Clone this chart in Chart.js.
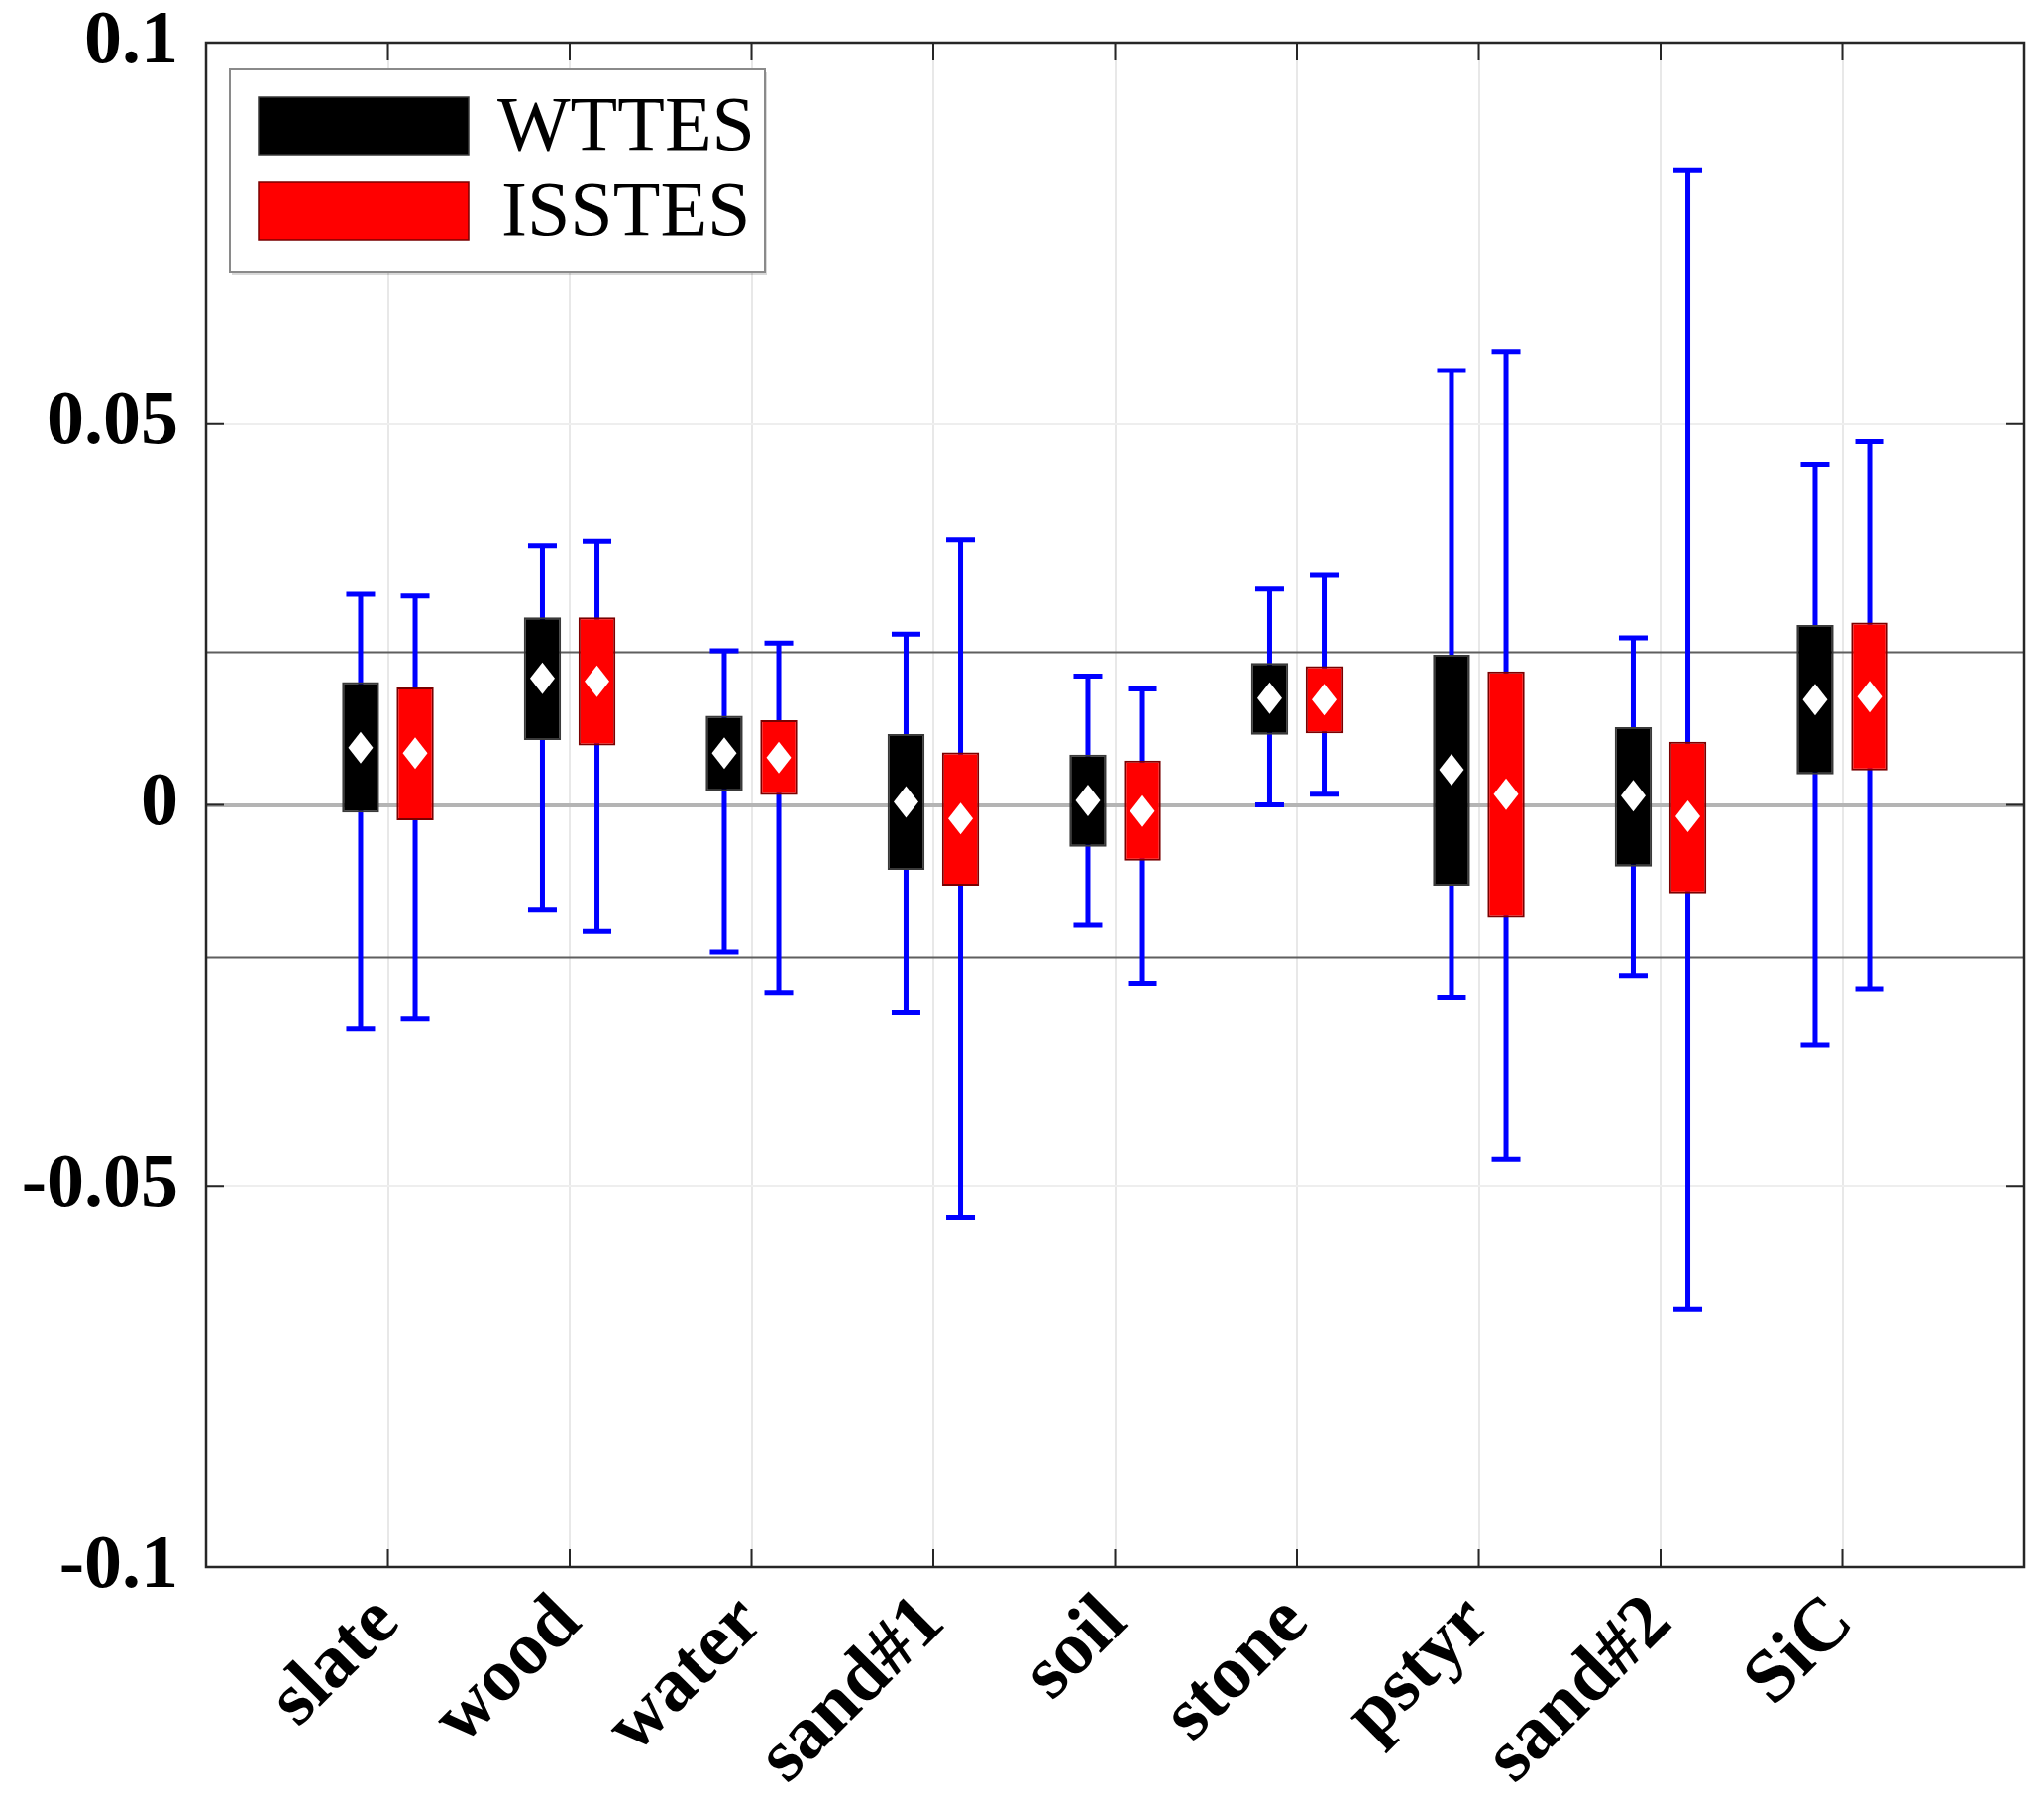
<!DOCTYPE html>
<html>
<head>
<meta charset="utf-8">
<script src="https://cdn.jsdelivr.net/npm/chart.js@4.4.1/dist/chart.umd.min.js"></script>
<style>
    body{margin:0;background:#fff;}
    canvas{display:block;}
</style>
</head>
<body>
<canvas id="chart" width="2063" height="1811"></canvas>
<script>

const categories = ['slate','wood','water','sand#1','soil','stone','pstyr','sand#2','SiC'];
const yTicks = [-0.1,-0.05,0,0.05,0.1];
const refLines = [-0.02,0.02];

// WTTES
const wttesMin  = [-0.0294,-0.0138,-0.0193,-0.0273,-0.0158, 0.0000,-0.0252,-0.0224,-0.0315];
const wttesQ1   = [-0.0010, 0.0085, 0.0018,-0.0085,-0.0055, 0.0092,-0.0106,-0.0081, 0.0040];
const wttesMean = [ 0.0075, 0.0166, 0.0068, 0.0004, 0.0006, 0.0140, 0.0046, 0.0012, 0.0138];
const wttesQ3   = [ 0.0161, 0.0246, 0.0117, 0.0093, 0.0066, 0.0186, 0.0197, 0.0102, 0.0236];
const wttesMax  = [ 0.0276, 0.0340, 0.0202, 0.0224, 0.0169, 0.0283, 0.0570, 0.0219, 0.0447];

// ISSTES
const isstesMin  = [-0.0281,-0.0166,-0.0246,-0.0542,-0.0234, 0.0014,-0.0465,-0.0661,-0.0241];
const isstesQ1   = [-0.0020, 0.0078, 0.0013,-0.0106,-0.0073, 0.0094,-0.0148,-0.0116, 0.0045];
const isstesMean = [ 0.0068, 0.0162, 0.0062,-0.0018,-0.0008, 0.0138, 0.0014,-0.0015, 0.0142];
const isstesQ3   = [ 0.0154, 0.0246, 0.0111, 0.0069, 0.0058, 0.0182, 0.0175, 0.0083, 0.0239];
const isstesMax  = [ 0.0274, 0.0346, 0.0212, 0.0348, 0.0152, 0.0302, 0.0595, 0.0832, 0.0477];


// empty slot at each end so the categories sit at 1..9 of 0..10
function pad(arr){
    return [null].concat(arr, [null]);
}

function boxes(q1, q3){
    return pad(q1.map((v, i) => [v, q3[i]]));
}

const labels = pad(categories).map(v => v === null ? '' : v);

const serif = "'Liberation Serif','Times New Roman',serif";

const boxPlugin = {
    id: 'boxPlugin',
    beforeDatasetsDraw(chart){
        const ctx = chart.ctx;
        const area = chart.chartArea;
        const y = chart.scales.y;
        ctx.save();
        // +-0.02 reference lines
        ctx.strokeStyle = '#5f5f5f';
        ctx.lineWidth = 2;
        refLines.forEach(v => {
            const py = y.getPixelForValue(v);
            ctx.beginPath();
            ctx.moveTo(area.left, py);
            ctx.lineTo(area.right, py);
            ctx.stroke();
        });
        // whiskers
        ctx.strokeStyle = '#0000ff';
        ctx.lineWidth = 5;
        chart.data.datasets.forEach((ds, di) => {
            const meta = chart.getDatasetMeta(di);
            meta.data.forEach((bar, i) => {
                if(ds.low[i] === null) return;
                const top = y.getPixelForValue(ds.high[i]);
                const bot = y.getPixelForValue(ds.low[i]);
                ctx.beginPath();
                ctx.moveTo(bar.x, top);
                ctx.lineTo(bar.x, bot);
                ctx.moveTo(bar.x - 14.5, top);
                ctx.lineTo(bar.x + 14.5, top);
                ctx.moveTo(bar.x - 14.5, bot);
                ctx.lineTo(bar.x + 14.5, bot);
                ctx.stroke();
            });
        });
        ctx.restore();
    },
    afterDatasetsDraw(chart){
        const ctx = chart.ctx;
        const y = chart.scales.y;
        ctx.save();
        ctx.fillStyle = '#ffffff';
        chart.data.datasets.forEach((ds, di) => {
            const meta = chart.getDatasetMeta(di);
            meta.data.forEach((bar, i) => {
                if(ds.mean[i] === null) return;
                const py = y.getPixelForValue(ds.mean[i]);
                ctx.beginPath();
                ctx.moveTo(bar.x, py - 16);
                ctx.lineTo(bar.x + 12.5, py);
                ctx.lineTo(bar.x, py + 16);
                ctx.lineTo(bar.x - 12.5, py);
                ctx.closePath();
                ctx.fill();
            });
        });
        ctx.restore();
    },
    afterDraw(chart){
        const ctx = chart.ctx;
        const area = chart.chartArea;
        const x = chart.scales.x;
        const y = chart.scales.y;
        ctx.save();
        // inward ticks
        ctx.strokeStyle = '#262626';
        ctx.lineWidth = 2;
        ctx.beginPath();
        for(let i = 1; i <= categories.length; i++){
            const px = x.getPixelForValue(i);
            ctx.moveTo(px, area.top);
            ctx.lineTo(px, area.top + 18);
            ctx.moveTo(px, area.bottom);
            ctx.lineTo(px, area.bottom - 18);
        }
        yTicks.forEach(v => {
            const py = y.getPixelForValue(v);
            ctx.moveTo(area.left, py);
            ctx.lineTo(area.left + 18, py);
            ctx.moveTo(area.right, py);
            ctx.lineTo(area.right - 18, py);
        });
        ctx.stroke();
        // frame
        ctx.lineWidth = 2.5;
        ctx.strokeRect(area.left, area.top, area.right - area.left, area.bottom - area.top);

        // legend box
        const lx = area.left + 24;
        const ly = area.top + 27;
        ctx.fillStyle = 'rgba(0,0,0,0.15)';
        ctx.fillRect(lx + 2, ly + 3, 540, 205);
        ctx.fillStyle = '#ffffff';
        ctx.fillRect(lx, ly, 540, 205);
        ctx.strokeStyle = '#8a8a8a';
        ctx.lineWidth = 2;
        ctx.strokeRect(lx, ly, 540, 205);
        ctx.font = '78px ' + serif;
        ctx.textBaseline = 'alphabetic';
        ctx.textAlign = 'left';
        chart.data.datasets.forEach((ds, di) => {
            const sy = ly + 28 + di * 86;
            ctx.fillStyle = ds.backgroundColor;
            ctx.fillRect(lx + 29, sy, 212, 58);
            ctx.strokeStyle = ds.borderColor;
            ctx.lineWidth = 1.5;
            ctx.strokeRect(lx + 29, sy, 212, 58);
            ctx.fillStyle = '#000000';
            ctx.fillText(ds.label, lx + 270 + (di ? 4 : 0), sy + 53);
        });
        ctx.restore();
    }
};

new Chart(
    document.getElementById('chart'),
    {
        type: 'bar',
        data: {
            labels: labels,
            datasets: [
                {
                    label: 'WTTES',
                    data: boxes(wttesQ1, wttesQ3),
                    low: pad(wttesMin),
                    high: pad(wttesMax),
                    mean: pad(wttesMean),
                    backgroundColor: '#000000',
                    borderColor: '#3a3a3a',
                    borderWidth: 2,
                    borderSkipped: false
                },
                {
                    label: 'ISSTES',
                    data: boxes(isstesQ1, isstesQ3),
                    low: pad(isstesMin),
                    high: pad(isstesMax),
                    mean: pad(isstesMean),
                    backgroundColor: '#ff0000',
                    borderColor: '#7a0000',
                    borderWidth: 2,
                    borderSkipped: false
                }
            ]
        },
        options: {
            responsive: false,
            animation: false,
            devicePixelRatio: 1,
            categoryPercentage: 0.6,
            barPercentage: 0.68,
            layout: {
                padding: {left: 0, top: 43, right: 20, bottom: 0}
            },
            plugins: {
                legend: {display: false},
                tooltip: {enabled: false}
            },
            scales: {
                x: {
                    type: 'category',
                    offset: false,
                    border: {display: false},
                    grid: {
                        offset: false,
                        drawTicks: false,
                        color: '#e8e8e8',
                        lineWidth: 2
                    },
                    ticks: {
                        autoSkip: false,
                        maxRotation: 45,
                        minRotation: 45,
                        padding: 12,
                        color: '#000000',
                        font: {family: serif, size: 76, weight: 'bold'}
                    },
                    afterFit(scale){
                        scale.height = 229;
                        scale.paddingLeft = 0;
                        scale.paddingRight = 0;
                    }
                },
                y: {
                    min: -0.1,
                    max: 0.1,
                    border: {display: false},
                    grid: {
                        drawTicks: false,
                        color: ctx => ctx.tick && ctx.tick.value === 0 ? '#b4b4b4' : '#eeeeee',
                        lineWidth: ctx => ctx.tick && ctx.tick.value === 0 ? 4 : 2
                    },
                    afterBuildTicks(scale){
                        scale.ticks = yTicks.map(v => ({value: v}));
                    },
                    ticks: {
                        padding: 28,
                        color: '#000000',
                        font: {family: serif, size: 76, weight: 'bold'},
                        callback: v => String(Math.round(v * 100) / 100)
                    },
                    afterFit(scale){
                        scale.width = 208;
                        scale.paddingTop = 0;
                        scale.paddingBottom = 0;
                    }
                }
            }
        },
        plugins: [boxPlugin]
    }
);

</script>
</body>
</html>
